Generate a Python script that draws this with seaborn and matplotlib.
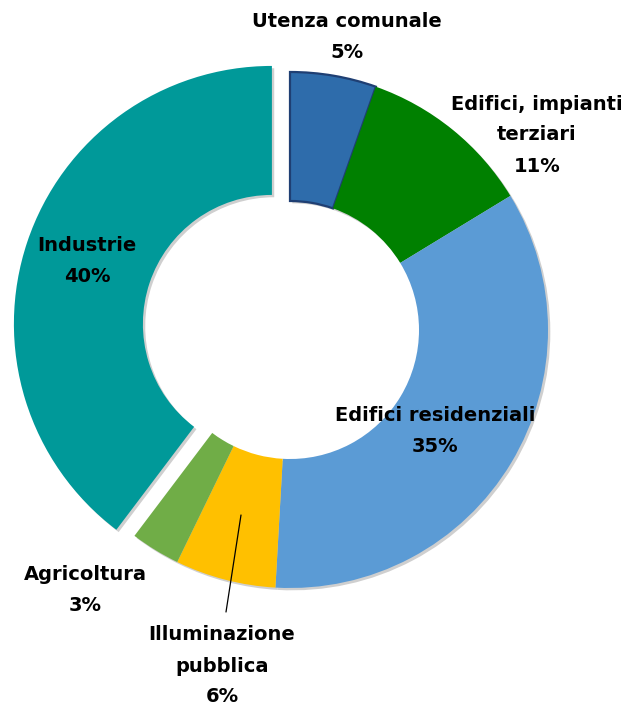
import numpy as np
import seaborn as sns
from matplotlib import pyplot as plt

# dati del grafico (quote percentuali)
categorie = ["Utenza comunale", "Edifici, impianti\nterziari", "Edifici residenziali",
             "Illuminazione\npubblica", "Agricoltura", "Industrie"]
valori = [5.4, 10.9, 34.6, 6.3, 3.1, 39.7]
etichette_pct = ["5%", "11%", "35%", "6%", "3%", "40%"]
colori = ["#2E6CAB", "#008000", "#5B9BD5", "#FFC000", "#70AD47", "#009999"]


def px(x, y):
    # da pixel della figura a coordinate dell'asse (centro 290,330 raggio 258)
    return (x - 290) / 258.0, (330 - y) / 258.0


sns.set_theme(style="white")
plt.rcParams['font.family'] = ['DejaVu Sans']

fig = plt.figure(figsize=(6.4, 7.08), dpi=100)
ax = fig.add_axes([0, 0, 1, 1])

explode = [0, 0, 0, 0, 0, 0.074]
# ombra leggera sotto le fette (stessa torta, spostata e grigia)
ombre, _ = ax.pie(valori, colors=["#cfcfcf"] * len(valori), startangle=90, counterclock=False,
                  explode=explode, radius=1.0, center=(0.009, -0.009),
                  wedgeprops=dict(width=0.5, linewidth=0))
for w in ombre:
    w.set_zorder(0.5)

wedges, _ = ax.pie(valori, colors=sns.color_palette(colori), startangle=90, counterclock=False,
                   explode=explode, radius=1.0,
                   wedgeprops=dict(width=0.5, linewidth=0, edgecolor="white"))
# bordo scuro per l'utenza comunale
wedges[0].set_edgecolor("#1F3F73")
wedges[0].set_linewidth(1.6)

x0, y0 = px(0, 708)
x1, y1 = px(640, 0)
ax.set_xlim(x0, x1)
ax.set_ylim(y0, y1)
ax.set_aspect("equal")
ax.axis("off")

# posizioni delle etichette
pos_etichette = [(347, 37), (537, 135), (435, 431), (222, 666), (85, 590), (87, 261)]
for cat, pct, (lx, ly) in zip(categorie, etichette_pct, pos_etichette):
    tx, ty = px(lx, ly)
    ax.text(tx, ty, cat + "\n" + pct, ha="center", va="center", fontsize=14,
            fontweight="bold", color="black", linespacing=1.8)

# linea guida per illuminazione pubblica
a = px(241, 515)
b = px(226, 612)
ax.plot([a[0], b[0]], [a[1], b[1]], color="black", linewidth=0.9)

fig.savefig("out.png", dpi=100)
